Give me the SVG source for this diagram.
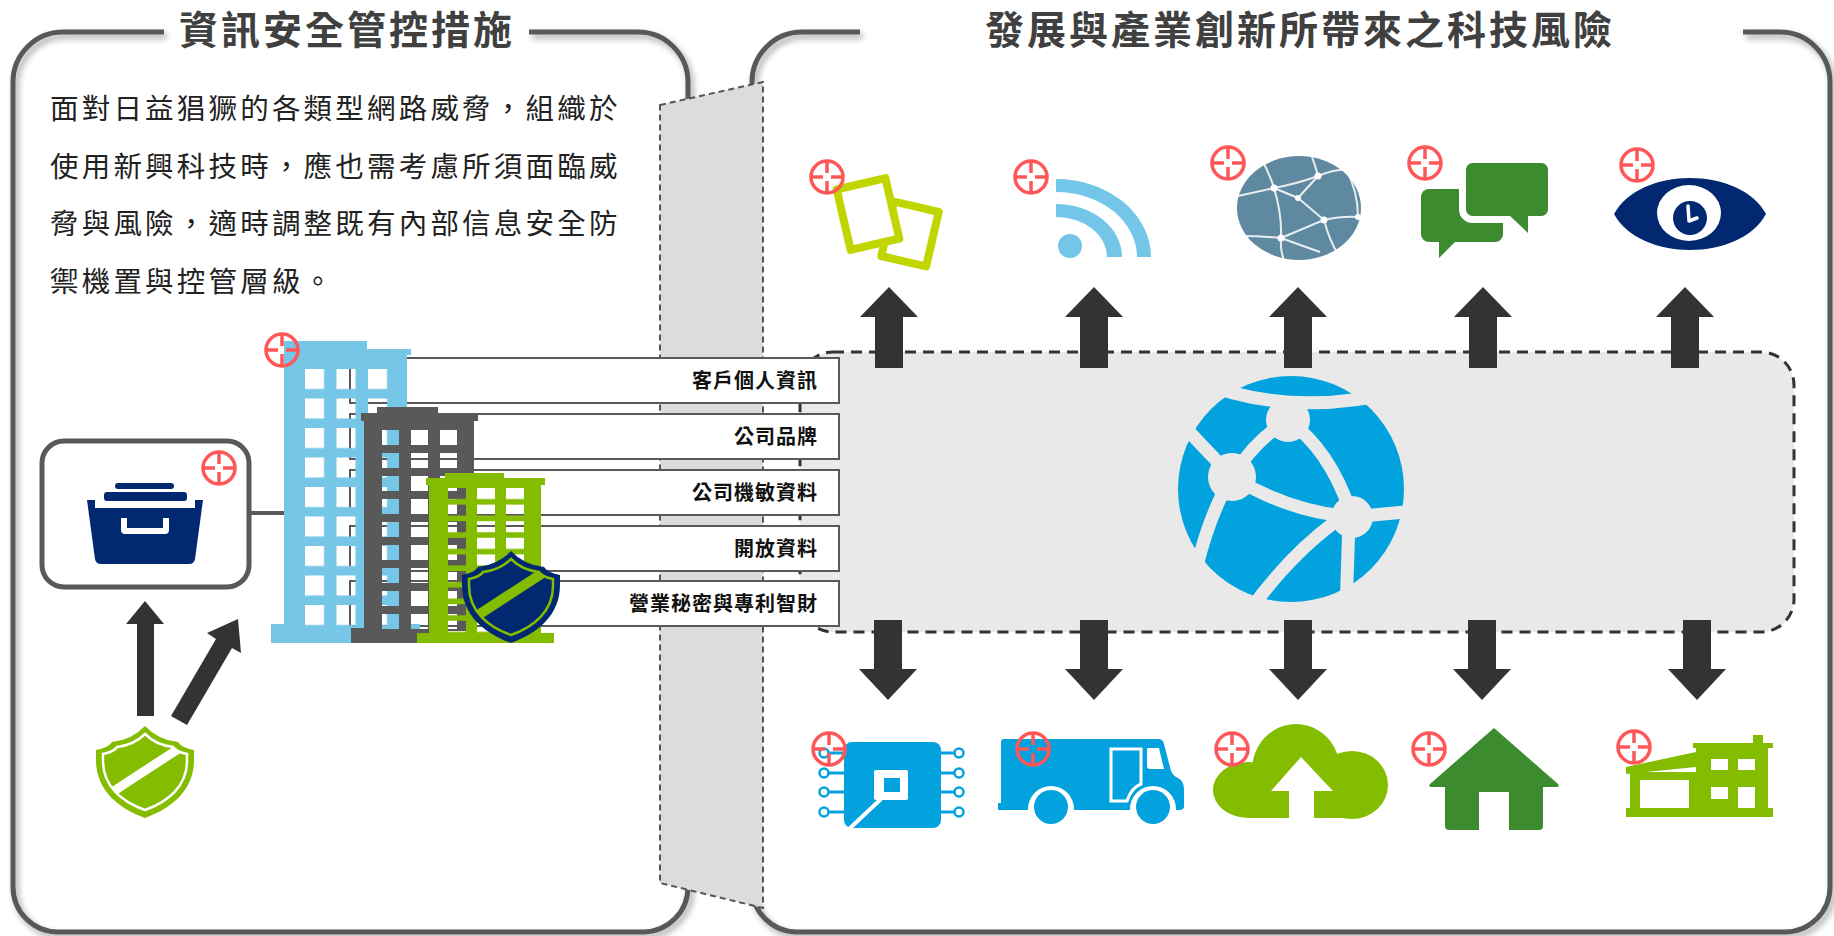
<svg xmlns="http://www.w3.org/2000/svg" width="1834" height="936" viewBox="0 0 1834 936">
<style>
.panel{fill:none;stroke:#595959;stroke-width:5;filter:url(#shadow)}
.title{font-family:"Noto Sans CJK TC","Noto Sans CJK SC",sans-serif;font-weight:700;font-size:39px;fill:#404040;letter-spacing:3px;text-anchor:middle}
.para{font-family:"Noto Sans CJK TC","Noto Sans CJK SC",sans-serif;font-size:28.5px;fill:#222;letter-spacing:3.2px}
.lblbox{fill:#fff;stroke:#595959;stroke-width:2}
.lbl{font-family:"Noto Sans CJK TC","Noto Sans CJK SC",sans-serif;font-size:20px;font-weight:700;fill:#111;letter-spacing:1px;text-anchor:end}
.arrow{fill:#333}
.target{fill:none;stroke:#ff5757;stroke-width:3.5}
.gap{fill:none;stroke:#e9e9e9;stroke-width:13;stroke-linecap:round}
.net{fill:none;stroke:#fff;stroke-width:2;opacity:.85}
</style>
<defs>
  <filter id="shadow" x="-5%" y="-5%" width="110%" height="110%">
    <feDropShadow dx="3" dy="4" stdDeviation="3" flood-color="#000" flood-opacity="0.35"/>
  </filter>
  <g id="target"><circle r="16"/><path d="M0,-16V-4M0,16V4M-16,0H-4M16,0H4"/></g>
  <path id="upA" d="M-14,368V317H-29L0,287L29,317H14V368Z"/>
  <path id="dnA" d="M-14,620V669H-29L0,700L29,669H14V620Z"/>
  <path id="shieldOuter" d="M49,0Q62,14 82,16Q86,22 98,24L98,34C98,64 76,82 49,92C22,82 0,64 0,34L0,24Q12,22 16,16Q36,14 49,0Z"/>
  <path id="shieldInner" fill="none" stroke-width="2.5" d="M49,8Q60,19 77,21Q80,26 91,28L91,35C91,60 72,76 49,84C26,76 7,60 7,35L7,28Q18,26 21,21Q38,19 49,8Z"/>
  <clipPath id="shieldClip"><path d="M49,8Q60,19 77,21Q80,26 91,28L91,35C91,60 72,76 49,84C26,76 7,60 7,35L7,28Q18,26 21,21Q38,19 49,8Z"/></clipPath>
  <pattern id="winBlue" patternUnits="userSpaceOnUse" x="305" y="369" width="31.5" height="29.5"><rect width="19" height="20" fill="#000"/></pattern>
  <pattern id="winGray" patternUnits="userSpaceOnUse" x="382" y="430" width="29" height="23"><rect width="17" height="15" fill="#000"/></pattern>
  <pattern id="winGreen" patternUnits="userSpaceOnUse" x="448" y="488" width="29" height="16.6"><rect width="18" height="11" fill="#000"/></pattern>
  <mask id="mBlue" maskUnits="userSpaceOnUse" x="0" y="0" width="1834" height="936">
    <rect x="260" y="330" width="170" height="320" fill="#fff"/>
    <rect x="305" y="369" width="83" height="257" fill="url(#winBlue)"/>
  </mask>
  <mask id="mGray" maskUnits="userSpaceOnUse" x="0" y="0" width="1834" height="936">
    <rect x="340" y="400" width="150" height="250" fill="#fff"/>
    <rect x="382" y="430" width="75" height="200" fill="url(#winGray)"/>
  </mask>
  <mask id="mGreen" maskUnits="userSpaceOnUse" x="0" y="0" width="1834" height="936">
    <rect x="410" y="465" width="150" height="185" fill="#fff"/>
    <rect x="448" y="488" width="76" height="145" fill="url(#winGreen)"/>
  </mask>
</defs>

<rect width="1834" height="936" fill="#fff"/>

<!-- panel frames -->
<g id="panel-left">
  <path class="panel" d="M164,32H63A50,50 0 0 0 13,82V887A45,45 0 0 0 58,932H643A45,45 0 0 0 688,887V82A50,50 0 0 0 638,32H529"/>
  <text class="title" x="347" y="44">資訊安全管控措施</text>
  <text class="para" x="50" y="119">面對日益猖獗的各類型網路威脅，組織於</text>
  <text class="para" x="50" y="177">使用新興科技時，應也需考慮所須面臨威</text>
  <text class="para" x="50" y="234">脅與風險，適時調整既有內部信息安全防</text>
  <text class="para" x="50" y="292">禦機置與控管層級。</text>
</g>
<g id="panel-right">
  <path class="panel" d="M860,32H802A50,50 0 0 0 752,82V887A45,45 0 0 0 797,932H1785A45,45 0 0 0 1830,887V82A50,50 0 0 0 1780,32H1743"/>
  <text class="title" x="1300" y="44">發展與產業創新所帶來之科技風險</text>
</g>

<!-- central hub -->
<g id="hub">
  <rect x="800" y="352" width="994" height="280" rx="33" fill="#e9e9e9" stroke="#333" stroke-width="3" stroke-dasharray="11 7"/>
  <g id="hub-globe">
    <circle cx="1291" cy="489" r="113" fill="#02a2de"/>
    <path class="gap" d="M1195,380Q1290,420 1405,390"/>
    <path class="gap" d="M1178,420L1232,477"/>
    <path class="gap" d="M1288,420Q1255,440 1232,477"/>
    <path class="gap" d="M1288,420Q1332,452 1352,517"/>
    <path class="gap" d="M1232,477Q1210,512 1196,570"/>
    <path class="gap" d="M1232,477Q1290,512 1352,517"/>
    <path class="gap" d="M1352,517L1415,511"/>
    <path class="gap" d="M1349,520L1346,612"/>
    <path class="gap" d="M1335,522Q1290,555 1250,610"/>
    <circle cx="1288" cy="420" r="22" fill="#e9e9e9"/>
    <circle cx="1232" cy="477" r="24" fill="#e9e9e9"/>
    <circle cx="1352" cy="517" r="21" fill="#e9e9e9"/>
  </g>
</g>

<!-- firewall between the two panels -->
<g id="wall">
  <path d="M660,105L763,82V908L660,883Z" fill="#dcdcdc" stroke="#555" stroke-width="2" stroke-dasharray="6 4"/>
</g>

<!-- asset labels -->
<g id="labels">
  <rect class="lblbox" x="350" y="358" width="489" height="45"/>
  <text class="lbl" x="818" y="388">客戶個人資訊</text>
  <rect class="lblbox" x="350" y="414" width="489" height="45"/>
  <text class="lbl" x="818" y="444">公司品牌</text>
  <rect class="lblbox" x="350" y="470" width="489" height="45"/>
  <text class="lbl" x="818" y="500">公司機敏資料</text>
  <rect class="lblbox" x="350" y="526" width="489" height="45"/>
  <text class="lbl" x="818" y="556">開放資料</text>
  <rect class="lblbox" x="350" y="581" width="489" height="45"/>
  <text class="lbl" x="818" y="611">營業秘密與專利智財</text>
</g>

<!-- office buildings -->
<g id="buildings">
  <g mask="url(#mBlue)" fill="#76c6e8">
    <rect x="284" y="341" width="83" height="290"/>
    <rect x="284" y="349" width="127" height="6"/>
    <rect x="284" y="349" width="123" height="280"/>
    <rect x="271" y="624" width="149" height="19"/>
  </g>
  <g mask="url(#mGray)" fill="#595959">
    <rect x="377" y="407" width="61" height="8"/>
    <rect x="361" y="413" width="117" height="8"/>
    <rect x="364" y="413" width="110" height="218"/>
    <rect x="351" y="628" width="78" height="15"/>
  </g>
  <g mask="url(#mGreen)" fill="#84bd00">
    <rect x="445" y="473" width="59" height="7"/>
    <rect x="426" y="478" width="119" height="7"/>
    <rect x="429" y="478" width="112" height="157"/>
    <rect x="417" y="633" width="137" height="10"/>
  </g>
  <g id="shield-navy" transform="translate(462,551)">
    <use href="#shieldOuter" fill="#022872"/>
    <use href="#shieldInner" stroke="#84bd00"/>
    <line x1="4" y1="72" x2="96" y2="12" stroke="#84bd00" stroke-width="10" clip-path="url(#shieldClip)"/>
  </g>
</g>

<!-- storage tray -->
<g id="tray">
  <rect x="42" y="441" width="207" height="146" rx="22" fill="#fff" stroke="#595959" stroke-width="5"/>
  <path d="M87,500H203L195,559Q194,564 189,564H101Q96,564 95,559Z" fill="#022872"/>
  <rect x="95" y="500" width="100" height="8" fill="#fff"/>
  <rect x="104" y="492" width="83" height="9" rx="3" fill="#022872"/>
  <rect x="115" y="483" width="59" height="6" rx="3" fill="#022872"/>
  <path d="M121,518V530Q121,534 125,534H165Q169,534 169,530V518H163V528H127V518Z" fill="#fff"/>
</g>

<!-- security shield -->
<g id="shield-green" transform="translate(96,726)">
  <use href="#shieldOuter" fill="#84bd00"/>
  <use href="#shieldInner" stroke="#fff"/>
  <line x1="4" y1="74" x2="96" y2="14" stroke="#fff" stroke-width="9" clip-path="url(#shieldClip)"/>
</g>

<!-- upper technology icons -->
<g id="icon-tablets" fill="none" stroke="#c1d500" stroke-width="8" stroke-linejoin="round">
  <rect x="887" y="206" width="46" height="56" transform="rotate(13 910 234)"/>
  <rect x="843" y="183" width="50" height="62" fill="#fff" transform="rotate(-13 868 214)"/>
</g>
<g id="icon-wifi" fill="#73c6e7">
  <path d="M1056,179A95,78 0 0 1 1151,257H1137A81,65 0 0 0 1056,192Z"/>
  <path d="M1056,204A66,53 0 0 1 1122,257H1107A51,40 0 0 0 1056,217Z"/>
  <ellipse cx="1070" cy="246" rx="12" ry="12"/>
</g>
<g id="icon-network">
  <ellipse cx="1299" cy="208" rx="62" ry="52" fill="#5e89a0"/>
  <g class="net">
    <path d="M1238,196Q1256,192 1274,188Q1296,184 1318,176Q1338,168 1352,170"/>
    <path d="M1262,160Q1270,175 1274,188Q1282,214 1281,238Q1280,250 1284,260"/>
    <path d="M1318,176L1298,198L1324,220L1281,238"/>
    <path d="M1312,157Q1316,168 1318,176"/>
    <path d="M1324,220Q1342,216 1358,217M1324,220Q1330,242 1338,254"/>
    <path d="M1240,236Q1262,236 1281,238Q1300,245 1320,252"/>
    <path d="M1274,188L1298,198M1358,217Q1358,190 1345,168"/>
  </g>
  <g fill="#fff">
    <circle cx="1274" cy="188" r="3.5"/><circle cx="1318" cy="176" r="3.5"/><circle cx="1298" cy="198" r="3"/>
    <circle cx="1324" cy="220" r="3.5"/><circle cx="1281" cy="238" r="3.5"/><circle cx="1358" cy="217" r="3"/>
  </g>
</g>
<g id="icon-chat" fill="#3d8b2f">
  <rect x="1421" y="189" width="82" height="53" rx="8"/>
  <path d="M1439,238H1459L1439,258Z"/>
  <rect x="1462.5" y="159.5" width="89" height="60" rx="10" stroke="#fff" stroke-width="7"/>
  <path d="M1508,214H1528V233Z"/>
</g>
<g id="icon-eye">
  <path d="M1614,214C1640,166 1740,166 1766,214C1740,262 1640,262 1614,214Z" fill="#022872"/>
  <ellipse cx="1689" cy="213" rx="32" ry="28" fill="#fff"/>
  <circle cx="1690" cy="218" r="17" fill="#022872"/>
  <path d="M1688,206L1689,221L1697,218" fill="none" stroke="#fff" stroke-width="3.5" stroke-linecap="round" stroke-linejoin="round"/>
</g>

<!-- lower technology icons -->
<g id="icon-chip">
  <g stroke="#02a2de" stroke-width="3">
    <path d="M828,753H844M828,773H844M828,792H844M828,812H844M941,753H955M941,773H955M941,792H955M941,812H955"/>
    <g fill="#fff" stroke-width="2.5">
      <circle cx="824" cy="753" r="4.5"/><circle cx="824" cy="773" r="4.5"/><circle cx="824" cy="792" r="4.5"/><circle cx="824" cy="812" r="4.5"/>
      <circle cx="959" cy="753" r="4.5"/><circle cx="959" cy="773" r="4.5"/><circle cx="959" cy="792" r="4.5"/><circle cx="959" cy="812" r="4.5"/>
    </g>
  </g>
  <rect x="844" y="742" width="97" height="86" rx="8" fill="#02a2de"/>
  <rect x="874" y="770" width="34" height="30" rx="2" fill="#fff"/>
  <rect x="884" y="778" width="16" height="14" fill="#02a2de"/>
  <path d="M881,799L848,830" stroke="#fff" stroke-width="4"/>
</g>
<g id="icon-truck">
  <path d="M1004,739H1158Q1163,739 1164,744L1171,771Q1173,776 1178,778Q1184,781 1184,789V806Q1184,810 1180,810H998V803H1001V743Q1001,739 1004,739Z" fill="#02a2de"/>
  <circle cx="1051" cy="809" r="23" fill="#fff"/>
  <circle cx="1153" cy="809" r="23" fill="#fff"/>
  <circle cx="1051" cy="807" r="17" fill="#02a2de"/>
  <circle cx="1153" cy="807" r="17" fill="#02a2de"/>
  <path d="M1148,748H1159L1164,769H1150Q1147,769 1147,766V750Q1147,748 1148,748Z" fill="#fff"/>
  <path d="M1111,749H1141V784Q1131,788 1127,801H1111Z" fill="none" stroke="#fff" stroke-width="3"/>
</g>
<g id="icon-cloud">
  <g fill="#84bd00">
    <ellipse cx="1248" cy="790" rx="35" ry="28"/>
    <ellipse cx="1296" cy="770" rx="44" ry="46"/>
    <ellipse cx="1352" cy="785" rx="36" ry="34"/>
    <rect x="1248" y="785" width="104" height="33"/>
  </g>
  <path d="M1301,757L1333,791H1314V818H1289V791H1271Z" fill="#fff"/>
</g>
<g id="icon-house" fill="#3d8b2f">
  <path d="M1494,728L1558,784Q1560,787 1556,787H1432Q1428,787 1430,784Z"/>
  <path d="M1445,786H1543V826Q1543,830 1539,830H1509V792H1479V830H1449Q1445,830 1445,826Z"/>
</g>
<g id="icon-factory" fill="#84bd00">
  <rect x="1753" y="735" width="10" height="10"/>
  <rect x="1693" y="743" width="80" height="5"/>
  <path d="M1696,746H1768V809H1696Z"/>
  <path d="M1626,767L1696,752V767L1626,774Z"/>
  <rect x="1630" y="772" width="66" height="38"/>
  <rect x="1626" y="808" width="147" height="9"/>
  <g fill="#fff">
    <rect x="1640" y="780" width="49" height="28"/>
    <rect x="1711" y="759" width="17" height="11"/><rect x="1738" y="759" width="17" height="11"/>
    <rect x="1711" y="787" width="17" height="12"/><rect x="1738" y="787" width="17" height="21"/>
  </g>
</g>

<!-- connectors -->
<g id="connectors">
  <path d="M249,513H284" stroke="#595959" stroke-width="4"/>
  <path class="arrow" d="M137,716V624H126L145,601L164,624H154V716Z"/>
  <path class="arrow" d="M171,716L216,639L207,633L238,619L241,653L232,648L187,725Z"/>
  <use class="arrow" href="#upA" x="889"/>
  <use class="arrow" href="#upA" x="1094"/>
  <use class="arrow" href="#upA" x="1298"/>
  <use class="arrow" href="#upA" x="1483"/>
  <use class="arrow" href="#upA" x="1685"/>
  <use class="arrow" href="#dnA" x="888"/>
  <use class="arrow" href="#dnA" x="1094"/>
  <use class="arrow" href="#dnA" x="1298"/>
  <use class="arrow" href="#dnA" x="1482"/>
  <use class="arrow" href="#dnA" x="1697"/>
</g>

<!-- risk markers -->
<g id="markers">
  <use class="target" href="#target" x="219" y="468"/>
  <use class="target" href="#target" x="282" y="350"/>
  <use class="target" href="#target" x="827" y="177"/>
  <use class="target" href="#target" x="1031" y="177"/>
  <use class="target" href="#target" x="1228" y="163"/>
  <use class="target" href="#target" x="1425" y="163"/>
  <use class="target" href="#target" x="1637" y="165"/>
  <use class="target" href="#target" x="829" y="749"/>
  <use class="target" href="#target" x="1033" y="749"/>
  <use class="target" href="#target" x="1232" y="749"/>
  <use class="target" href="#target" x="1429" y="749"/>
  <use class="target" href="#target" x="1634" y="747"/>
</g>
</svg>
